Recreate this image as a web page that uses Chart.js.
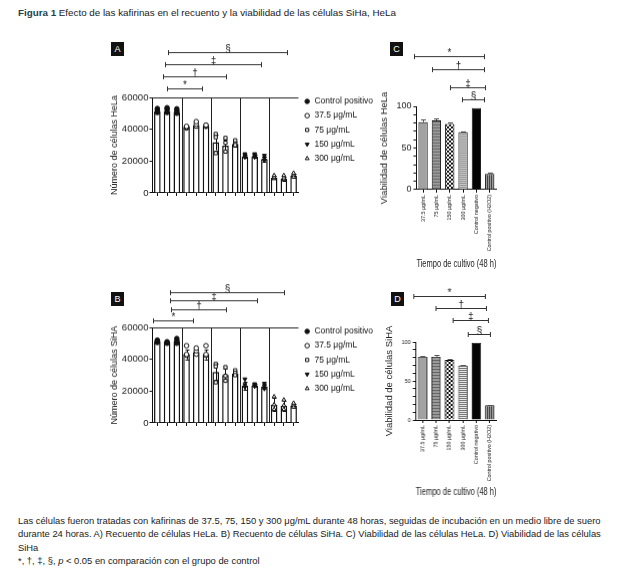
<!DOCTYPE html>
<html><head><meta charset="utf-8">
<script src="https://cdn.jsdelivr.net/npm/chart.js@4.4.1/dist/chart.umd.min.js"></script>
<style>
html,body{margin:0;padding:0;background:#fff;}
body{width:628px;height:569px;position:relative;overflow:hidden;font-family:"Liberation Sans",Arial,sans-serif;color:#1a1a1a;}
.txt{position:absolute;white-space:nowrap;}
.lab{position:absolute;width:13px;height:14px;background:#111;color:#fff;font-size:9px;line-height:14px;text-align:center;}
.wrap{position:absolute;}
</style></head><body>
<div class="txt" style="left:18px;top:7px;font-size:9.8px;line-height:12px"><b style="color:#1d3f4f">Figura 1</b> Efecto de las kafirinas en el recuento y la viabilidad de las células SiHa, HeLa</div>
<div class="lab" style="left:111px;top:42px">A</div>
<div class="lab" style="left:111px;top:292px">B</div>
<div class="lab" style="left:390px;top:42px">C</div>
<div class="lab" style="left:391px;top:292px">D</div>
<div class="wrap" id="wA" style="left:100px;top:30px;width:280px;height:180px"><canvas id="cA"></canvas></div>
<div class="wrap" id="wB" style="left:100px;top:260px;width:280px;height:180px"><canvas id="cB"></canvas></div>
<div class="wrap" id="wC" style="left:370px;top:30px;width:140px;height:240px"><canvas id="cC"></canvas></div>
<div class="wrap" id="wD" style="left:370px;top:270px;width:140px;height:230px"><canvas id="cD"></canvas></div>
<div class="txt" style="left:18px;top:514px;font-size:9.4px;line-height:13.4px">Las células fueron tratadas con kafirinas de 37.5, 75, 150 y 300 μg/mL durante 48 horas, seguidas de incubación en un medio libre de suero<br>durante 24 horas. A) Recuento de células HeLa. B) Recuento de células SiHa. C) Viabilidad de las células HeLa. D) Viabilidad de las células<br>SiHa<br>*, †, ‡, §, <i>p</i> &lt; 0.05 en comparación con el grupo de control</div>
<script>
// ---------- DATA ----------
const groupNames = ['Control positivo', '37.5 μg/mL', '75 μg/mL', '150 μg/mL', '300 μg/mL'];
const countLabels = ['1','2','3','4','5','6','7','8','9','10','11','12','13','14','15'];
const countTicks = [0, 20000, 40000, 60000];

const helaMeans = [51200, 51500, 50800, 41300, 42300, 42000, 31800, 29700, 30700, 22900, 22900, 21300, 9500, 9000, 10800];
const helaErr   = [1000, 1000, 1000, 600, 1200, 500, 5000, 4000, 1500, 1000, 1000, 1500, 1000, 1200, 1200];
const helaPoints = [
  [50500, 52000, 53000], [50500, 52500, 53500], [50000, 51500, 52800],
  [40800, 41300, 41800], [42000, 43200, 44800], [41800, 42200, 42600],
  [37000, 35000, 25000], [34500, 31500, 26000], [33000, 31000, 30000],
  [22500, 23500, 24500], [22500, 23500, 24500], [20500, 22000, 23500],
  [9000, 10000, 11000], [8500, 9500, 11000], [10000, 11500, 12500]
];
const sihaMeans = [51300, 50800, 51300, 43000, 44500, 43000, 32000, 30200, 31000, 23500, 23500, 22800, 11500, 10800, 10800];
const sihaErr   = [800, 600, 1200, 3000, 1800, 3000, 5000, 4000, 1500, 2500, 800, 1500, 4000, 3000, 1200];
const sihaPoints = [
  [50500, 51500, 52000], [50000, 50500, 51000], [50000, 51500, 53000],
  [42500, 43000, 48500], [43200, 45300, 47000], [42500, 43000, 48500],
  [37000, 35500, 25500], [35000, 29500, 26500], [33000, 31500, 30000],
  [22500, 24000, 27500], [23000, 23800, 24500], [21500, 23000, 24800],
  [8500, 11500, 16500], [8500, 11000, 14500], [10000, 11500, 12500]
];

const viabLabels = ['37.5 μg/mL', '75 μg/mL', '150 μg/mL', '300 μg/mL', 'Control negativo', 'Control positivo (H2O2)'];
const helaViab    = [81, 83, 79, 69, 98, 19];
const helaViabErr = [3, 2.5, 1.5, 1, 0, 1];
const sihaViab    = [81, 81, 77, 70, 99, 19];
const sihaViabErr = [1.5, 2.5, 1.5, 1, 0, 0.8];

// significance brackets: [from category, to category, height (axis units), symbol]
const helaCountBrackets = [[1.0, 4.6, 65500, '*'], [0.63, 7.07, 73300, '†'], [0.83, 10.6, 80800, '‡'], [1.14, 13.3, 88600, '§']];
const sihaCountBrackets = [[-0.4, 3.7, 64200, '*'], [1.42, 7.07, 71200, '†'], [1.25, 10.2, 76900, '‡'], [1.25, 13.0, 82100, '§']];
const helaViabBrackets = [[-0.7, 4.6, 160, '*'], [0.65, 4.6, 144, '†'], [2.05, 4.65, 123, '‡'], [2.95, 4.6, 109, '§']];
const sihaViabBrackets = [[-0.7, 4.6, 159, '*'], [0.99, 4.7, 143.6, '†'], [2.25, 4.86, 128, '‡'], [3.39, 4.98, 110, '§']];

// ---------- STYLE ----------
const FONT = '"Liberation Sans", Arial, sans-serif';
Chart.defaults.font.family = FONT;
Chart.defaults.color = '#222';
Chart.defaults.animation = false;

const markerStyle = ['circle', 'circle', 'rect', 'triangle', 'triangle'];
const markerRot = [0, 0, 0, 180, 0];
const markerFill = ['#111', '#fff', '#fff', '#111', '#fff'];

function pattern(w, h, draw) {
  const c = document.createElement('canvas'); c.width = w; c.height = h;
  const g = c.getContext('2d'); draw(g);
  return g.createPattern(c, 'repeat');
}
const viabFills = [
  '#a2a2a2',
  pattern(4, 3, g => { g.fillStyle = '#9a9a9a'; g.fillRect(0,0,4,3); g.fillStyle = '#666'; g.fillRect(0,0,4,1); }),
  pattern(4, 4, g => { g.fillStyle = '#fff'; g.fillRect(0,0,4,4); g.fillStyle = '#111'; g.fillRect(0,0,2,2); g.fillRect(2,2,2,2); }),
  pattern(2, 2, g => { g.fillStyle = '#e8e8e8'; g.fillRect(0,0,2,2); g.fillStyle = '#777'; g.fillRect(0,0,2,1); }),
  '#050505',
  pattern(2, 2, g => { g.fillStyle = '#999'; g.fillRect(0,0,2,2); g.fillStyle = '#444'; g.fillRect(0,0,1,2); })
];

function bracketPlugin(items, fontSize) {
  return {
    id: 'brk',
    afterDraw(chart) {
      const {ctx, scales: {x, y}} = chart;
      ctx.save();
      ctx.strokeStyle = '#333'; ctx.lineWidth = 1;
      ctx.fillStyle = '#222'; ctx.font = fontSize + 'px ' + FONT;
      ctx.textAlign = 'center'; ctx.textBaseline = 'alphabetic';
      items.forEach(([a, b, v, s]) => {
        const x1 = Math.round(x.getPixelForValue(a)) + 0.5, x2 = Math.round(x.getPixelForValue(b)) + 0.5;
        const yy = Math.round(y.getPixelForValue(v)) + 0.5;
        ctx.beginPath();
        ctx.moveTo(x1, yy); ctx.lineTo(x2, yy);
        ctx.moveTo(x1, yy - 2.5); ctx.lineTo(x1, yy + 2.5);
        ctx.moveTo(x2, yy - 2.5); ctx.lineTo(x2, yy + 2.5);
        ctx.stroke();
        ctx.fillText(s, (x1 + x2) / 2, yy - 1);
      });
      ctx.restore();
    }
  };
}

const legendShift = { id: 'lshift', afterLayout(chart) { if (chart.legend && chart.options.plugins.legend.display) chart.legend.top -= 6; } };

function countChart(id, means, errs, points, yTitle, brackets) {
  const datasets = [{ type: 'bar', data: means, backgroundColor: '#fff', borderColor: '#111', borderWidth: 1.5,
    barPercentage: 0.68, categoryPercentage: 1, order: 2 }];
  groupNames.forEach((name, g) => {
    const pts = [];
    for (let k = 0; k < 3; k++) { const i = 3 * g + k; points[i].forEach(v => pts.push({ x: countLabels[i], y: v })); }
    datasets.push({ type: 'line', label: name, data: pts, showLine: false, order: 1,
      pointStyle: markerStyle[g], pointRotation: markerRot[g], pointRadius: 2.3,
      pointBackgroundColor: markerFill[g], pointBorderColor: '#111', pointBorderWidth: 1,
      backgroundColor: markerFill[g], borderColor: '#111' });
  });
  const deco = {
    id: 'deco',
    beforeDatasetsDraw(chart) {
      const {ctx, chartArea: a, scales: {x}} = chart;
      ctx.save(); ctx.strokeStyle = '#222'; ctx.lineWidth = 1;
      ctx.beginPath();
      for (let g = 1; g < groupNames.length; g++) {
        const px = Math.round((x.getPixelForValue(3 * g - 1) + x.getPixelForValue(3 * g)) / 2) + 0.5;
        ctx.moveTo(px, a.top); ctx.lineTo(px, a.bottom);
      }
      ctx.moveTo(a.left, Math.round(a.top) + 0.5); ctx.lineTo(a.right, Math.round(a.top) + 0.5);
      ctx.stroke(); ctx.restore();
    },
    afterDatasetDraw(chart, args) {
      if (args.index !== 0) return;
      const {ctx, scales: {x, y}} = chart;
      ctx.save(); ctx.strokeStyle = '#111'; ctx.lineWidth = 1;
      ctx.beginPath();
      means.forEach((m, i) => {
        const px = Math.round(x.getPixelForValue(i)) + 0.5;
        const y1 = y.getPixelForValue(m - errs[i]), y2 = y.getPixelForValue(m + errs[i]);
        ctx.moveTo(px, y1); ctx.lineTo(px, y2);
        ctx.moveTo(px - 2, Math.round(y2) + 0.5); ctx.lineTo(px + 2, Math.round(y2) + 0.5);
        ctx.moveTo(px - 2, Math.round(y1) + 0.5); ctx.lineTo(px + 2, Math.round(y1) + 0.5);
      });
      ctx.stroke(); ctx.restore();
    }
  };
  return new Chart(document.getElementById(id), {
    data: { labels: countLabels, datasets },
    options: {
      responsive: true, maintainAspectRatio: false, animation: false,
      layout: { padding: { top: 62, right: 2, left: 0, bottom: 2 } },
      plugins: {
        tooltip: { enabled: false },
        legend: { display: true, position: 'right', align: 'start', maxWidth: 120,
          labels: { usePointStyle: true, boxWidth: 6, boxHeight: 3.2, padding: 5.7, color: '#111',
            font: { size: 8.5 }, filter: it => it.datasetIndex > 0 } }
      },
      scales: {
        x: { type: 'category', offset: true,
          grid: { display: true, drawOnChartArea: false, offset: false, tickLength: 3, color: '#111' },
          border: { display: true, color: '#111', width: 1 },
          ticks: { display: false } },
        y: { min: countTicks[0], max: countTicks[countTicks.length - 1],
          afterBuildTicks: s => { s.ticks = countTicks.map(v => ({ value: v })); },
          ticks: { font: { size: 9.6 }, color: '#222', padding: 1, callback: v => String(v) },
          grid: { drawOnChartArea: false, tickLength: 3, color: '#111' },
          border: { color: '#111' },
          title: { display: true, text: yTitle, font: { size: 9 }, color: '#222', padding: { top: 0, bottom: 1 } } }
      }
    },
    plugins: [deco, bracketPlugin(brackets, 10), legendShift]
  });
}

function viabChart(id, vals, errs, yTitle, yTickSize, brackets) {
  const ebar = {
    id: 'ebar',
    afterDatasetsDraw(chart) {
      const {ctx, scales: {x, y}} = chart;
      ctx.save(); ctx.strokeStyle = '#555'; ctx.lineWidth = 1; ctx.beginPath();
      vals.forEach((v, i) => {
        if (!errs[i]) return;
        const px = Math.round(x.getPixelForValue(i)) + 0.5;
        const y1 = y.getPixelForValue(v), y2 = Math.round(y.getPixelForValue(v + errs[i])) + 0.5;
        ctx.moveTo(px, y1); ctx.lineTo(px, y2);
        ctx.moveTo(px - 2.5, y2); ctx.lineTo(px + 2.5, y2);
      });
      ctx.stroke(); ctx.restore();
    }
  };
  return new Chart(document.getElementById(id), {
    type: 'bar',
    data: { labels: viabLabels, datasets: [{ data: vals, backgroundColor: viabFills, borderColor: '#111', borderWidth: 1,
      barPercentage: 0.7, categoryPercentage: 1 }] },
    options: {
      responsive: true, maintainAspectRatio: false, animation: false,
      layout: { padding: { top: 72, right: 4, left: 0, bottom: 2 } },
      plugins: { legend: { display: false }, tooltip: { enabled: false } },
      scales: {
        x: { grid: { display: true, drawOnChartArea: false, offset: false, tickLength: 3, color: '#111' },
          border: { color: '#111' },
          ticks: { maxRotation: 90, minRotation: 90, autoSkip: false, font: { size: 5.4 }, color: '#222', padding: 2 },
          title: { display: true, text: 'Tiempo de cultivo (48 h)', font: { size: 10.5 }, color: '#222', padding: { top: 5, bottom: 0 } } },
        y: { min: 0, max: 100,
          ticks: { stepSize: 10, autoSkip: false, callback: v => (v % 50 === 0 ? String(v) : ''), font: { size: yTickSize }, color: '#222', padding: 2 },
          grid: { drawOnChartArea: false, tickLength: 3, color: '#111' },
          border: { color: '#111' },
          title: { display: true, text: yTitle, font: { size: 9.5 }, color: '#222', padding: { top: 0, bottom: 4 } } }
      }
    },
    plugins: [ebar, bracketPlugin(brackets, 10)]
  });
}

function fit(chart, wrapId, T) {
  const w = document.getElementById(wrapId);
  for (let k = 0; k < 2; k++) {
    const ca = chart.chartArea;
    w.style.left = (T.l - ca.left) + 'px';
    w.style.top = (T.t - ca.top) + 'px';
    w.style.width = (parseFloat(w.style.width) + (T.r - T.l) - (ca.right - ca.left)) + 'px';
    w.style.height = (parseFloat(w.style.height) + (T.b - T.t) - (ca.bottom - ca.top)) + 'px';
    chart.resize();
  }
}

const chA = countChart('cA', helaMeans, helaErr, helaPoints, 'Número de células HeLa', helaCountBrackets);
const chB = countChart('cB', sihaMeans, sihaErr, sihaPoints, 'Número de células SiHA', sihaCountBrackets);
const chC = viabChart('cC', helaViab, helaViabErr, 'Viabilidad de células HeLa', 9, helaViabBrackets);
const chD = viabChart('cD', sihaViab, sihaViabErr, 'Viabilidad de células SiHA', 5.5, sihaViabBrackets);
fit(chA, 'wA', { l: 152, t: 97, r: 298, b: 192 });
fit(chB, 'wB', { l: 152, t: 327, r: 298, b: 422 });
fit(chC, 'wC', { l: 416, t: 106, r: 496, b: 189 });
fit(chD, 'wD', { l: 416, t: 342, r: 496, b: 420 });
</script>
</body></html>
